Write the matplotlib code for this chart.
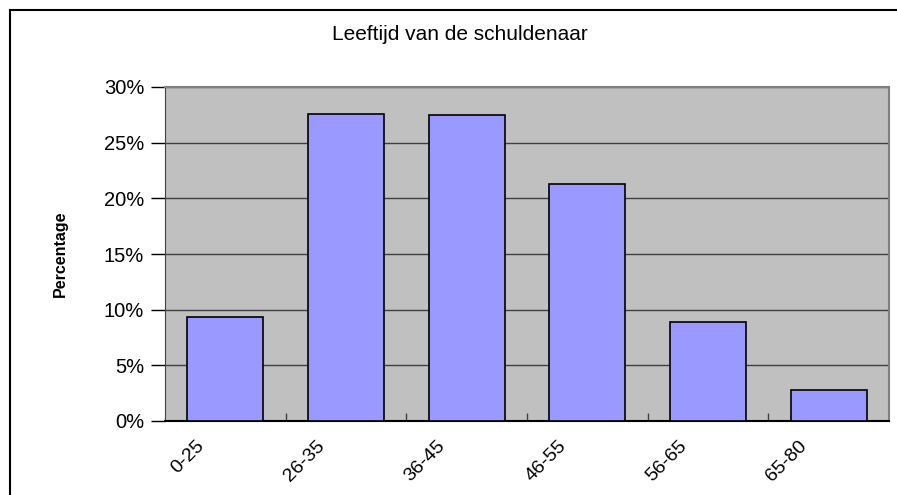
import numpy as np
import matplotlib
matplotlib.use('Agg')
import matplotlib.pyplot as plt
import matplotlib.transforms as mtransforms
from matplotlib.lines import Line2D

categories = ['0-25', '26-35', '36-45', '46-55', '56-65', '65-80']
percentages = [9.3, 27.6, 27.5, 21.3, 8.9, 2.8]
y_ticks = [0, 5, 10, 15, 20, 25, 30]
title = 'Leeftijd van de schuldenaar'
y_label = 'Percentage'

plt.rcParams['font.family'] = ['Liberation Sans', 'DejaVu Sans']

W, H = 897, 495
fig = plt.figure(figsize=(W / 100, H / 100), dpi=100)
fig.patch.set_facecolor('white')

# plot area in pixels: left 165, right 889, top 87, bottom 421
ax = fig.add_axes([165 / W, 1 - 421 / H, (889 - 165) / W, (421 - 87) / H])
ax.set_facecolor('#C0C0C0')

x = np.arange(len(categories))
ax.bar(x, percentages, width=0.63, color='#9999FF', edgecolor='black', linewidth=1.2, zorder=3)

ax.set_xlim(-0.5, len(categories) - 0.5)
ax.set_ylim(0, 30)
ax.set_yticks(y_ticks)
ax.set_yticklabels([f'{v}%' for v in y_ticks], fontsize=14.5)
for v in y_ticks[1:]:
    ax.axhline(v, color='#404040', linewidth=1, zorder=1)

ax.set_xticks(x)
ax.set_xticklabels(categories, fontsize=14, rotation=45, ha='right', va='center',
                   rotation_mode='anchor')
ax.tick_params(axis='x', length=0, pad=0)
shift = mtransforms.ScaledTranslation(-0.24, -0.22, fig.dpi_scale_trans)
for lbl in ax.get_xticklabels():
    lbl.set_transform(lbl.get_transform() + shift)
ax.tick_params(axis='y', length=10, width=1, direction='out', pad=5)
# small category boundary ticks pointing into the plot
ax.set_xticks(np.arange(0.5, len(categories) - 0.5, 1), minor=True)
ax.tick_params(axis='x', which='minor', length=6, width=1, direction='in', color='#404040')

for side in ['top', 'right']:
    ax.spines[side].set_color('#808080')
    ax.spines[side].set_linewidth(1.5)
ax.spines['left'].set_color('#404040')
ax.spines['bottom'].set_color('black')
ax.spines['bottom'].set_linewidth(1.5)

ax.set_ylabel(y_label, fontsize=11.5, fontweight='bold', labelpad=26)

fig.text(460 / W, 1 - 35 / H, title, ha='center', va='center', fontsize=15)

# outer chart border (cut off at right and bottom)
fig.add_artist(Line2D([10 / W, 1], [1 - 10 / H, 1 - 10 / H], color='black', linewidth=1.5, transform=fig.transFigure))
fig.add_artist(Line2D([10 / W, 10 / W], [0, 1 - 10 / H], color='black', linewidth=1.5, transform=fig.transFigure))

fig.savefig('out.png', dpi=100)
